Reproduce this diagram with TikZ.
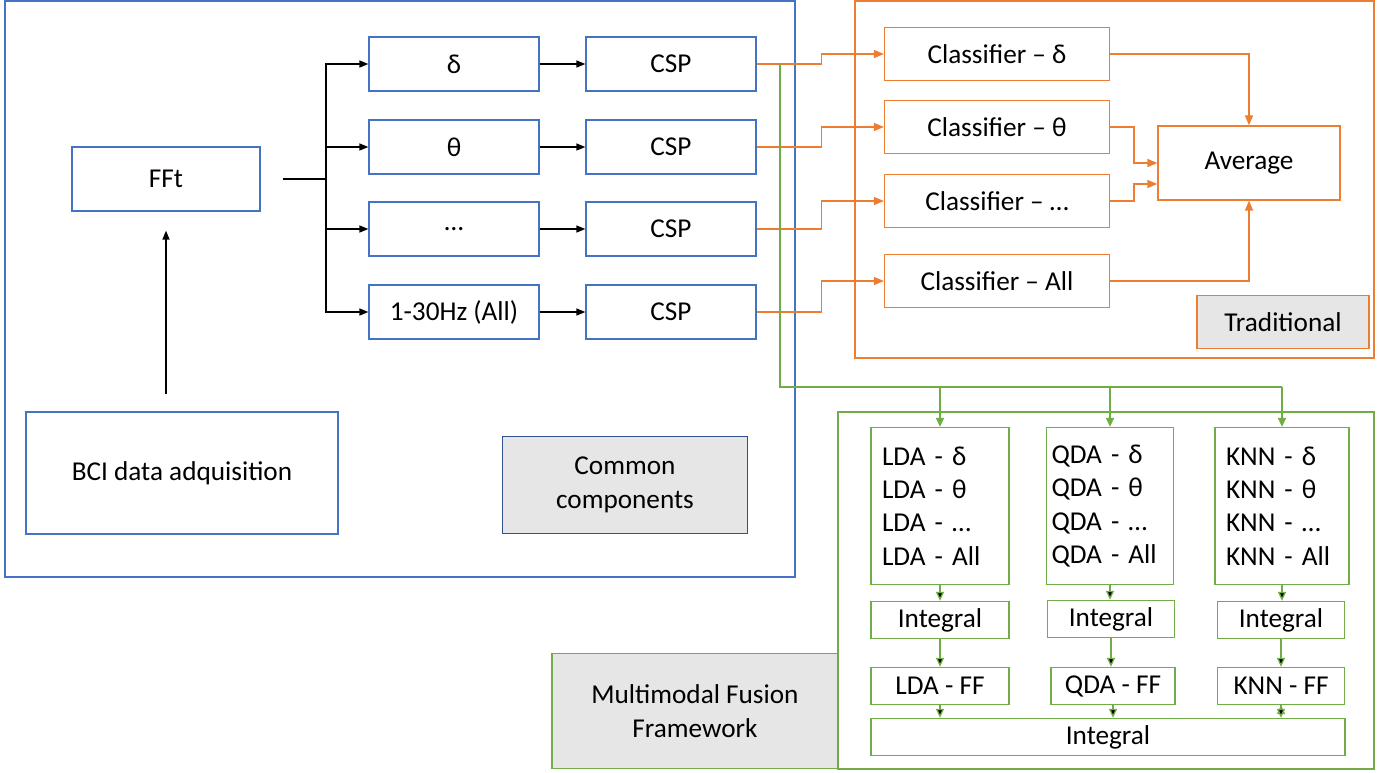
\documentclass[tikz,border=0pt]{standalone}
\usepackage{fontspec}
\setmainfont{Carlito}
\usetikzlibrary{arrows.meta}
\definecolor{bblue}{HTML}{4472C4}
\definecolor{dblue}{HTML}{2F528F}
\definecolor{orng}{HTML}{ED7D31}
\definecolor{grn}{HTML}{70AD47}
\definecolor{lgray}{HTML}{E7E6E6}
\begin{document}
\begin{tikzpicture}
  [x=0.02cm,y=-0.02cm,line width=0.75pt,
   every node/.style={font=\fontsize{15.5}{19}\selectfont,inner sep=0pt},
   bbox/.style={draw=bblue,minimum height=1.08cm,minimum width=3.4cm},
   obox/.style={draw=orng,minimum height=1.06cm,minimum width=4.5cm},
   gbox/.style={draw=grn,minimum height=0.74cm},
   lst/.style={draw=grn,minimum height=3.14cm,align=left,inner xsep=0.22cm},
   tag/.style={draw,fill=lgray,align=center},
   blk/.style={-{Triangle[length=0.18cm,width=0.14cm]}},
   org/.style={draw=orng,-{Triangle[length=0.2cm,width=0.16cm]}},
   grl/.style={draw=grn,-{Triangle[length=0.18cm,width=0.16cm]}}]
  \useasboundingbox (0,0) rectangle (1390,772);

  % frames
  \draw[bblue] (5,1) rectangle (795,577);
  \draw[orng] (855,1) rectangle (1374,358);
  \draw[grn] (838,412) rectangle (1374,769);

  % common components
  \node[bbox,minimum width=3.76cm,minimum height=1.28cm] (fft) at (166,179) {FFt};
  \node[bbox,minimum width=6.24cm,minimum height=2.44cm] (bci) at (182,473) {BCI data adquisition};
  \node[bbox] (bandA) at (454,64)  {δ};
  \node[bbox] (bandB) at (454,147) {θ};
  \node[bbox] (bandC) at (454,229) {…};
  \node[bbox] (bandD) at (454,312) {1-30Hz (All)};
  \node[bbox] (cspA) at (671,64)  {CSP};
  \node[bbox] (cspB) at (671,147) {CSP};
  \node[bbox] (cspC) at (671,229) {CSP};
  \node[bbox] (cspD) at (671,312) {CSP};
  \node[tag,draw=dblue,minimum width=4.9cm,minimum height=1.94cm] (cctag) at (625,485) {Common\\components};

  % traditional
  \node[obox] (clsA) at (997,54)  {Classifier – δ};
  \node[obox] (clsB) at (997,127) {Classifier – θ};
  \node[obox] (clsC) at (997,201) {Classifier – …};
  \node[obox] (clsD) at (997,281) {Classifier – All};
  \node[obox,minimum width=3.64cm,minimum height=1.48cm] (avg) at (1249,163) {Average};
  \node[tag,draw=orng,minimum width=3.44cm,minimum height=1.06cm] (tradtag) at (1283,322) {Traditional};

  % multimodal fusion
  \node[tag,draw=grn,minimum width=5.72cm,minimum height=2.3cm] (mmftag) at (695,711) {Multimodal Fusion\\Framework};
  \node[lst,text width=2.32cm] (lda) at (940,506) {LDA - δ\\LDA - θ\\LDA - …\\LDA - All};
  \node[lst,text width=2.34cm,inner xsep=0.1cm] (qda) at (1110,506) {QDA - δ\\QDA - θ\\QDA - …\\QDA - All};
  \node[lst,text width=2.24cm] (knn) at (1282,506) {KNN - δ\\KNN - θ\\KNN - …\\KNN - All};
  \node[gbox,minimum width=2.76cm] (intL) at (940,620)  {Integral};
  \node[gbox,minimum width=2.54cm] (intQ) at (1111,619) {Integral};
  \node[gbox,minimum width=2.54cm] (intK) at (1281,620) {Integral};
  \node[gbox,minimum width=2.76cm] (ffL) at (940,686)  {LDA - FF};
  \node[gbox,minimum width=2.48cm] (ffQ) at (1113,686) {QDA - FF};
  \node[gbox,minimum width=2.54cm] (ffK) at (1281,686) {KNN - FF};
  \node[gbox,minimum width=9.48cm] (intAll) at (1108,737) {Integral};

  % black connectors
  \draw[blk,shorten <=0.34cm,shorten >=0.38cm] (bci.north -| fft) -- (fft.south);
  \coordinate (fan) at (326,179);
  \draw[shorten <=0.44cm] (fft.east) -- (fan);
  \draw[blk] (fan) |- (bandA.west);
  \draw[blk] (fan) |- (bandB.west);
  \draw[blk] (fan) |- (bandC.west);
  \draw[blk] (fan) |- (bandD.west);
  \path[draw,blk]
    (bandA) edge (cspA)
    (bandB) edge (cspB)
    (bandC) edge (cspC)
    (bandD) edge (cspD);

  % orange connectors
  \draw[org] (cspA.east) -- ++(65,0) |- (clsA.west);
  \draw[org] (cspB.east) -- ++(65,0) |- (clsB.west);
  \draw[org] (cspC.east) -- ++(65,0) |- (clsC.west);
  \draw[org] (cspD.east) -- ++(65,0) |- (clsD.west);
  \draw[org] (clsA.east) -| (avg.north);
  \draw[org] (clsB.east) -- ++(24,0) |- (avg.west);
  \draw[org] (clsC.east) -- ++(24,0) |- ([yshift=-0.42cm]avg.west);
  \draw[org] (clsD.east) -| (avg.south);

  % green connectors
  \coordinate (gtap) at (780,64);
  \coordinate (gbus) at (780,387);
  \draw[grn] (gtap) -- (gbus) -- (gbus -| knn.north);
  \draw[grl] (gbus -| lda.north) -- (lda.north);
  \draw[grl] (gbus -| qda.north) -- (qda.north);
  \draw[grl] (gbus -| knn.north) -- (knn.north);
  \path[grl]
    (lda.south) edge (lda.south |- intL.north)
    (qda.south) edge (qda.south |- intQ.north)
    (knn.south) edge (knn.south |- intK.north)
    (intL.south) edge (intL.south |- ffL.north)
    (intQ.south) edge (intQ.south |- ffQ.north)
    (intK.south) edge (intK.south |- ffK.north)
    (ffL.south) edge (ffL.south |- intAll.north)
    (ffQ.south) edge (ffQ.south |- intAll.north)
    (ffK.south) edge (ffK.south |- intAll.north);
\end{tikzpicture}
\end{document}
